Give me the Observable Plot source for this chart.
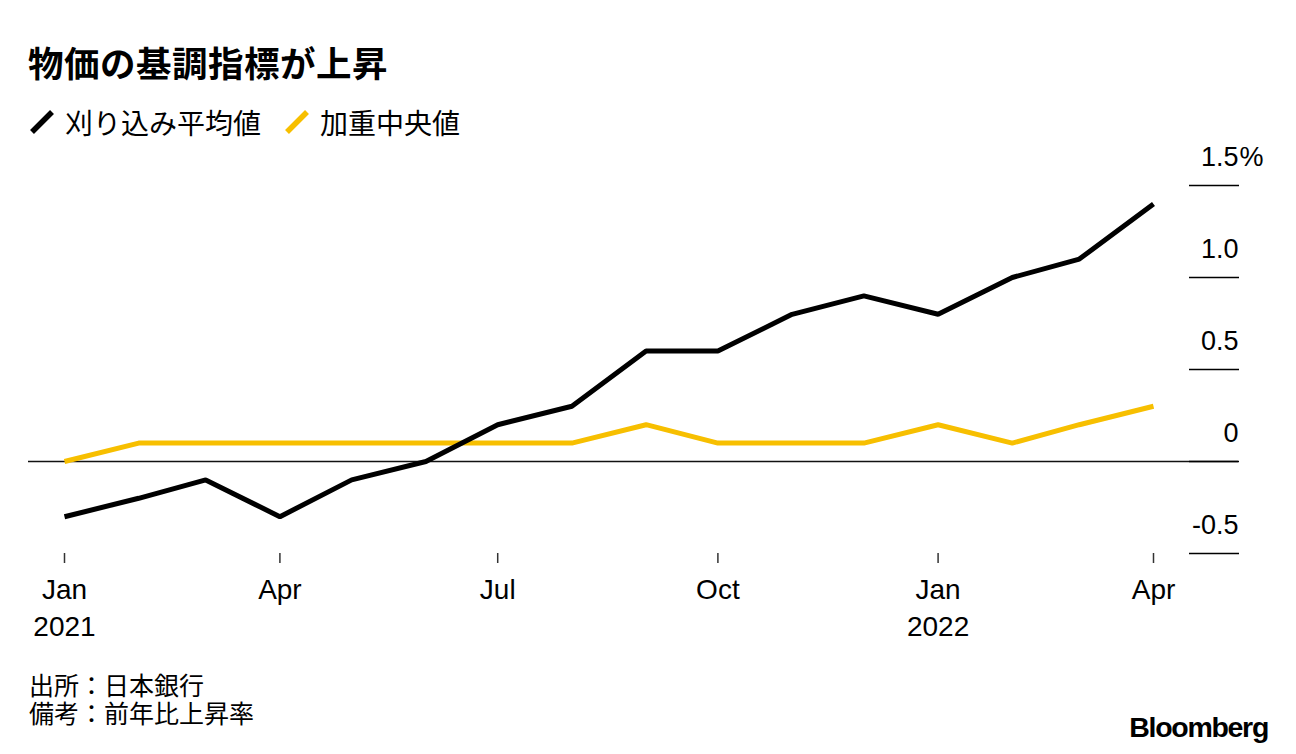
<!DOCTYPE html>
<html>
<head>
<meta charset="utf-8">
<script src="https://cdn.jsdelivr.net/npm/d3@7"></script>
<script src="https://cdn.jsdelivr.net/npm/@observablehq/plot@0.6"></script>
<style>
  html, body { margin: 0; padding: 0; background: #fff; }
  #root { position: relative; width: 1296px; height: 754px; overflow: hidden; font-family: "Liberation Sans", "Noto Sans CJK JP", sans-serif; color: #000; }
  #title { position: absolute; left: 28px; top: 42px; font: 700 35.5px/40px "Noto Sans CJK JP", sans-serif; letter-spacing: 0.5px; }
  #legend { position: absolute; left: 28px; top: 104px; font: 400 28px/36px "Noto Sans CJK JP", sans-serif; display: flex; align-items: center; }
  #legend .item { display: flex; align-items: center; margin-right: 22px; }
  #legend svg { margin-right: 9px; }
  #chart { position: absolute; left: 0; top: 140px; }
  .cap { position: absolute; left: 29px; height: 28px; font: 400 25px/28px "Liberation Sans", "Noto Sans CJK JP", sans-serif; white-space: nowrap; }
  #brand { position: absolute; right: 28px; top: 711px; font: 700 28.5px/32px "Liberation Sans", Arial, sans-serif; letter-spacing: -1.3px; }
</style>
</head>
<body>
<div id="root">
  <div id="title">物価の基調指標が上昇</div>
  <div id="legend"></div>
  <div id="chart"></div>
  <div class="cap" style="top:672px">出所：日本銀行</div>
  <div class="cap" style="top:700px">備考：前年比上昇率</div>
  <div id="brand">Bloomberg</div>
</div>
<script>
// ---- data ----
const months = ["2021-01","2021-02","2021-03","2021-04","2021-05","2021-06","2021-07","2021-08",
                "2021-09","2021-10","2021-11","2021-12","2022-01","2022-02","2022-03","2022-04"];
const trimmedMean = [-0.3, -0.2, -0.1, -0.3, -0.1, 0.0, 0.2, 0.3, 0.6, 0.6, 0.8, 0.9, 0.8, 1.0, 1.1, 1.4];
const weightedMedian = [0.0, 0.1, 0.1, 0.1, 0.1, 0.1, 0.1, 0.1, 0.2, 0.1, 0.1, 0.1, 0.2, 0.1, 0.2, 0.3];
const seriesNames = ["刈り込み平均値", "加重中央値"];
const seriesColors = ["#000000", "#f7bf00"];
const xTickDates = ["2021-01","2021-04","2021-07","2021-10","2022-01","2022-04"];
const xTickLabels = ["Jan\n2021","Apr","Jul","Oct","Jan\n2022","Apr"];
const yTicks = [-0.5, 0, 0.5, 1.0, 1.5];
const yTickLabels = ["-0.5", "0", "0.5", "1.0", "1.5"];
const yUnit = "%";

// ---- build ----
const parse = d3.utcParse("%Y-%m");
const rows = [];
months.forEach((m, i) => {
  rows.push({date: parse(m), value: trimmedMean[i], series: seriesNames[0]});
  rows.push({date: parse(m), value: weightedMedian[i], series: seriesNames[1]});
});
const xTicks = xTickDates.map(parse);
const xLabelMap = new Map(xTicks.map((d, i) => [+d, xTickLabels[i]]));
const yLabelMap = new Map(yTicks.map((d, i) => [d, yTickLabels[i]]));

// legend
const legend = document.getElementById("legend");
seriesNames.forEach((name, i) => {
  const item = document.createElement("div");
  item.className = "item";
  item.innerHTML = `<svg width="28" height="28" viewBox="0 0 28 28"><line x1="4" y1="24" x2="24" y2="4" stroke="${seriesColors[i]}" stroke-width="5.5" stroke-linecap="butt"/></svg><span>${name}</span>`;
  legend.appendChild(item);
});

const fontLatin = "'Liberation Sans', Arial, sans-serif";

const chart = Plot.plot({
  width: 1296,
  height: 510,
  marginLeft: 64,
  marginRight: 143,
  marginTop: 45,
  marginBottom: 97,
  style: {fontFamily: fontLatin, fontSize: "27px", color: "#000", background: "transparent", overflow: "visible"},
  x: {type: "utc", domain: [parse(months[0]), parse(months[months.length - 1])]},
  y: {domain: [-0.5, 1.5]},
  color: {domain: seriesNames, range: seriesColors},
  marks: [
    Plot.ruleY([0], {stroke: "#111", strokeWidth: 1.5, insetLeft: -36, insetRight: -85}),
    Plot.axisY(yTicks, {anchor: "right", tickSize: 50, dx: 35, fill: "none", stroke: "#000", strokeWidth: 1.5, label: null}),
    Plot.axisY(yTicks, {anchor: "right", tickSize: 0, tickPadding: 0, dx: 85, dy: -28, textAnchor: "end",
      tickFormat: d => yLabelMap.get(d), fontSize: 27, stroke: "none", label: null}),
    Plot.text([yTicks[yTicks.length - 1]], {y: d => d, frameAnchor: "right", dx: 86, dy: -28, textAnchor: "start",
      text: () => yUnit, fontSize: 27}),
    Plot.axisX(xTicks, {tickSize: 10, tickPadding: 9, stroke: "#333", strokeWidth: 1.5,
      tickFormat: d => xLabelMap.get(+d), fontSize: 28, lineHeight: 1.32, label: null}),
    Plot.lineY(rows.filter(d => d.series === seriesNames[1]), {x: "date", y: "value", stroke: "series", strokeWidth: 5, strokeLinejoin: "miter", strokeLinecap: "butt"}),
    Plot.lineY(rows.filter(d => d.series === seriesNames[0]), {x: "date", y: "value", stroke: "series", strokeWidth: 5, strokeLinejoin: "miter", strokeLinecap: "butt"})
  ]
});
document.getElementById("chart").appendChild(chart);
</script>
</body>
</html>
